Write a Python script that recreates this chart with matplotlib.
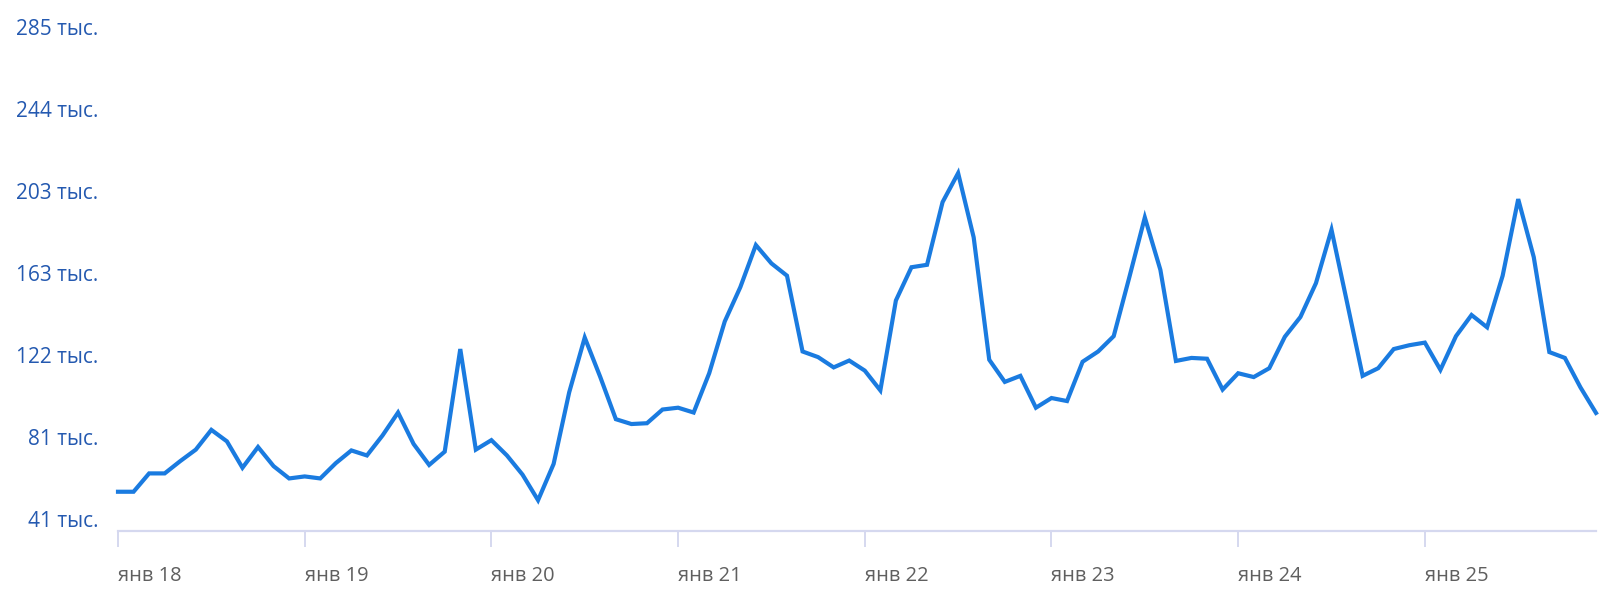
import matplotlib
matplotlib.use("Agg")
import matplotlib.pyplot as plt
import numpy as np

plt.rcParams['font.family'] = ['Open Sans', 'DejaVu Sans']

# Monthly values (thousands), Jan 2018 .. Dec 2025
values = [
    # 2018
    54.0, 54.0, 63.1, 63.1, 69.2, 74.9, 84.7, 79.0, 65.9, 76.2, 66.7, 60.6,
    # 2019
    61.6, 60.6, 68.2, 74.5, 72.0, 81.9, 93.3, 77.7, 67.3, 73.9, 124.8, 74.9,
    # 2020
    79.6, 72.0, 62.5, 49.8, 67.8, 103.3, 130.5, 110.9, 90.0, 87.6, 88.0, 94.8,
    # 2021
    95.7, 93.3, 112.8, 138.5, 155.5, 176.4, 167.3, 161.2, 123.6, 120.8, 115.7, 119.1,
    # 2022
    114.1, 104.3, 148.9, 165.4, 166.6, 197.7, 212.1, 180.2, 119.5, 108.5, 111.5, 95.7,
    # 2023
    100.5, 99.0, 118.5, 123.6, 131.2, 160.3, 190.1, 164.1, 118.9, 120.4, 120.0, 104.7,
    # 2024
    112.8, 110.9, 115.3, 130.9, 140.7, 157.5, 184.0, 147.9, 111.5, 115.3, 124.8, 126.7,
    # 2025
    128.0, 114.5, 131.2, 141.7, 135.6, 161.2, 199.2, 170.4, 123.3, 120.4, 105.8, 93.1,
]
x_tick_labels = ["янв 18", "янв 19", "янв 20", "янв 21", "янв 22", "янв 23", "янв 24", "янв 25"]
y_tick_values = [40.67, 81.33, 122.0, 162.67, 203.33, 244.0, 284.67]
y_tick_labels = ["41 тыс.", "81 тыс.", "122 тыс.", "163 тыс.", "203 тыс.", "244 тыс.", "285 тыс."]

W, H = 1608, 600
fig = plt.figure(figsize=(W / 100, H / 100), dpi=100)
left_px, right_px = 118, 1596
bottom_px = 530.7
ax = fig.add_axes([left_px / W, (H - bottom_px) / H, (right_px - left_px) / W, bottom_px / H])

x = np.arange(len(values))
ax.plot(x, values, color='#1a7be0', linewidth=3.0, solid_joinstyle='miter', clip_on=False)

ax.set_xlim(0, len(values) - 1)
ax.set_ylim(34.67, 298.0)

for s in ['top', 'right', 'left']:
    ax.spines[s].set_visible(False)
ax.spines['bottom'].set_color('#d5d8ef')
ax.spines['bottom'].set_linewidth(1.6)

ax.set_xticks(np.arange(0, len(values), 12))
ax.set_xticklabels(x_tick_labels, ha='left', color='#5f5f5f', fontsize=14.4)
ax.tick_params(axis='x', direction='out', length=11.5, width=1.4, color='#d5d8ef', pad=14)

ax.set_yticks(y_tick_values)
ax.set_yticklabels(y_tick_labels, color='#2459b0', fontsize=15)
ax.tick_params(axis='y', length=0, pad=14)

fig.savefig("out.png", dpi=100, facecolor='white')
